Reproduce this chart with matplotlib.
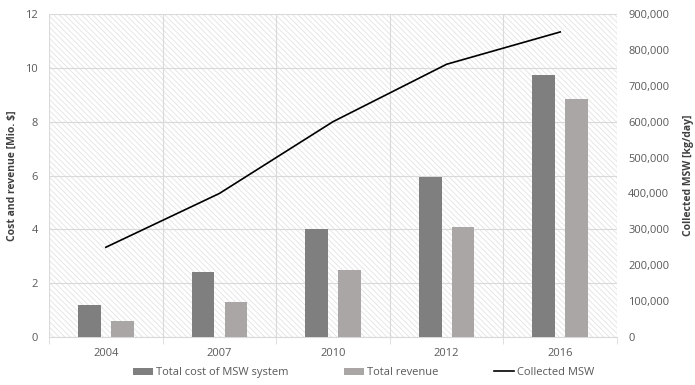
import matplotlib
matplotlib.use("Agg")
import matplotlib.pyplot as plt
import numpy as np
from matplotlib.ticker import FuncFormatter, MultipleLocator, FixedLocator

plt.rcParams['font.family'] = ['Open Sans', 'DejaVu Sans']
plt.rcParams['hatch.linewidth'] = 0.6
plt.rcParams['hatch.color'] = '#e3e3e3'

years = ['2004', '2007', '2010', '2012', '2016']
total_cost = [1.2, 2.4, 4.0, 5.95, 9.73]
total_revenue = [0.6, 1.3, 2.5, 4.1, 8.85]
collected_msw = [250000, 400000, 600000, 760000, 850000]

fig = plt.figure(figsize=(6.95, 3.85), dpi=100)
ax = fig.add_axes([0.0705, 0.1247, 0.8173, 0.8389])
ax.set_zorder(1)
ax.patch.set_facecolor('white')
ax.patch.set_hatch('\\\\\\\\\\\\')
ax.patch.set_edgecolor('#e3e3e3')

x = np.arange(len(years))
w = 0.2
ax.bar(x - 0.145, total_cost, w, color='#7f7f7f', label='Total cost of MSW system', zorder=3)
ax.bar(x + 0.145, total_revenue, w, color='#aaa6a6', label='Total revenue', zorder=3)

ax.set_xlim(-0.5, len(years) - 0.5)
ax.set_ylim(0, 12)
ax.yaxis.set_major_locator(MultipleLocator(2))
ax.set_xticks(x)
ax.set_xticklabels(years)
ax.xaxis.set_minor_locator(FixedLocator(np.arange(-0.5, len(years), 1.0)))
ax.tick_params(axis='x', which='major', length=0, pad=8, labelsize=8, colors='#595959')
ax.tick_params(axis='x', which='minor', length=5, color='#d9d9d9')
ax.tick_params(axis='y', length=0, pad=8, labelsize=8, colors='#595959')
ax.grid(axis='y', color='#d9d9d9', linewidth=0.8, zorder=1)
ax.grid(axis='x', which='minor', color='#d9d9d9', linewidth=0.8, zorder=1)
for s in ['top', 'left', 'right']:
    ax.spines[s].set_visible(False)
ax.spines['bottom'].set_color('#d9d9d9')
ax.set_axisbelow(True)
ax.set_ylabel('Cost and revenue [Mio. $]', fontsize=7.5, fontweight='bold', color='#404040')
ax.yaxis.set_label_coords(-0.055, 0.5)

ax2 = ax.twinx()
ax2.set_zorder(2)
ax2.patch.set_visible(False)
ax2.plot(x, collected_msw, color='black', linewidth=1.2, label='Collected MSW', zorder=4)
ax2.set_ylim(0, 900000)
ax2.yaxis.set_major_locator(MultipleLocator(100000))
ax2.yaxis.set_major_formatter(FuncFormatter(lambda v, p: f'{int(v):,}'))
ax2.tick_params(axis='y', length=0, pad=8, labelsize=8, colors='#595959')
for s in ax2.spines.values():
    s.set_visible(False)
ax2.set_ylabel('Collected MSW [kg/day]', fontsize=7.5, fontweight='bold', color='#404040')
ax2.yaxis.set_label_coords(1.117, 0.5)

h1, l1 = ax.get_legend_handles_labels()
h2, l2 = ax2.get_legend_handles_labels()
fig.legend(h1 + h2, l1 + l2, loc='center', bbox_to_anchor=(0.523, 0.032), ncol=3, frameon=False,
           fontsize=8, handlelength=1.8, handleheight=0.6, handletextpad=0.25, columnspacing=5.0,
           labelcolor='#595959')

fig.savefig('out.png', dpi=100)
